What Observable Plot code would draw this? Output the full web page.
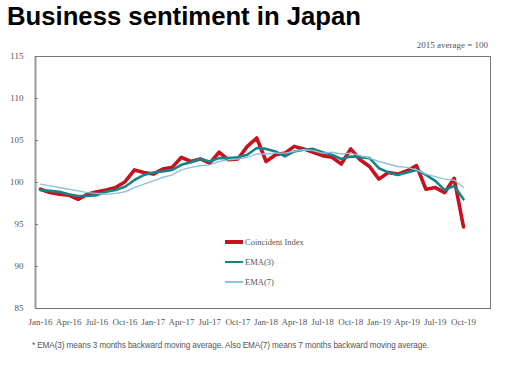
<!DOCTYPE html>
<html><head><meta charset="utf-8">
<script src="https://cdn.jsdelivr.net/npm/d3@7"></script>
<script src="https://cdn.jsdelivr.net/npm/@observablehq/plot@0.6"></script>
<style>
body{margin:0;background:#fff;}
#wrap{position:relative;width:509px;height:374px;overflow:hidden;background:#fff;}
#title{position:absolute;left:7px;top:4px;font:bold 25.7px/25px "Liberation Sans",Arial,sans-serif;color:#000;white-space:nowrap;}
#unit{position:absolute;right:21px;top:40px;font:9px/10px "Liberation Serif",serif;color:#555;white-space:nowrap;}
#chart{position:absolute;left:0;top:40px;}
#legend{position:absolute;left:225px;top:232px;font:8.5px/20px "Liberation Serif",serif;color:#555;}
#legend div{position:relative;height:20px;white-space:nowrap;}
#legend span.sw{position:absolute;left:0;width:18px;}
#legend span.tx{position:absolute;left:20px;top:0;}
#note{position:absolute;left:32px;top:341px;font:8.2px/10px "Liberation Sans",Arial,sans-serif;color:#555;white-space:nowrap;letter-spacing:-0.1px;}
</style></head><body>
<div id="wrap">
<div id="title">Business sentiment in Japan</div>
<div id="unit">2015 average = 100</div>
<div id="chart"></div>
<div id="legend"></div>
<div id="note">* EMA(3) means 3 months backward moving average. Also EMA(7) means 7 months backward moving average.</div>
</div>
<script>
// Monthly values, Jan-16 .. Oct-19 (46 months)
const coincident = [99.2, 98.8, 98.6, 98.5, 98.0, 98.6, 98.9, 99.1, 99.4, 100.1, 101.5, 101.2,
  101.0, 101.6, 101.8, 103.0, 102.5, 102.8, 102.3, 103.6, 102.7, 102.8, 104.3, 105.3,
  102.5, 103.3, 103.5, 104.3, 104.0, 103.6, 103.2, 103.0, 102.2, 104.0, 102.7, 101.9,
  100.4, 101.2, 101.0, 101.4, 102.0, 99.2, 99.4, 98.8, 100.5, 94.7];
const ema3 = [99.1, 99.0, 98.9, 98.6, 98.4, 98.4, 98.5, 98.9, 99.1, 99.5, 100.3, 100.9,
  101.2, 101.3, 101.5, 102.1, 102.4, 102.8, 102.5, 102.9, 102.9, 103.0, 103.3, 104.1,
  104.0, 103.7, 103.1, 103.7, 103.9, 104.0, 103.6, 103.3, 102.8, 103.1, 103.0, 102.9,
  101.7, 101.2, 100.9, 101.2, 101.5, 100.9, 100.2, 99.1, 99.6, 98.0];
const ema7 = [99.8, 99.6, 99.4, 99.2, 99.0, 98.8, 98.7, 98.6, 98.7, 98.9, 99.4, 99.8,
  100.2, 100.6, 100.9, 101.5, 101.8, 102.0, 102.1, 102.5, 102.7, 102.8, 103.0, 103.4,
  103.4, 103.5, 103.5, 103.7, 103.9, 103.8, 103.5, 103.6, 103.4, 103.5, 103.2, 102.9,
  102.5, 102.2, 101.9, 101.8, 101.5, 101.0, 100.7, 100.4, 100.3, 99.4];
const seriesNames = ["Coincident Index", "EMA(3)", "EMA(7)"];
const seriesColors = ["#c8101e", "#15838a", "#8cc2da"];
const seriesWidths = [3.6, 2.6, 1.4];
const tickLabels = ["Jan-16","Apr-16","Jul-16","Oct-16","Jan-17","Apr-17","Jul-17","Oct-17",
  "Jan-18","Apr-18","Jul-18","Oct-18","Jan-19","Apr-19","Jul-19","Oct-19"];
const yTicks = [85, 90, 95, 100, 105, 110, 115];

const tickMonths = tickLabels.map((_, k) => k * 3);
const xDomain = [-0.53, 47.87];
const toRows = arr => arr.map((v, i) => ({i, v}));

const chart = Plot.plot({
  width: 509, height: 295,
  marginTop: 16, marginBottom: 27, marginLeft: 35, marginRight: 19,
  style: {fontFamily: "'Liberation Serif', serif", fontSize: "9px", color: "#555", background: "transparent"},
  x: {domain: xDomain},
  y: {domain: [85, 115]},
  marks: [
    Plot.frame({stroke: "#777", strokeWidth: 1}),
    Plot.ruleX([xDomain[0]], {stroke: "#999", strokeWidth: 2}),
    Plot.ruleY(yTicks, {x1: xDomain[0], x2: xDomain[0] + 0.3, stroke: "#777"}),
    Plot.axisY({ticks: yTicks, tickSize: 0, tickPadding: 12, label: null}),
    Plot.axisX({ticks: tickMonths, tickFormat: (d) => tickLabels[d / 3], tickSize: 0, tickPadding: 10, label: null}),
    Plot.line(toRows(coincident), {x: "i", y: "v", stroke: seriesColors[0], strokeWidth: seriesWidths[0], strokeLinejoin: "round"}),
    Plot.line(toRows(ema3), {x: "i", y: "v", stroke: seriesColors[1], strokeWidth: seriesWidths[1], strokeLinejoin: "round"}),
    Plot.line(toRows(ema7), {x: "i", y: "v", stroke: seriesColors[2], strokeWidth: seriesWidths[2], strokeLinejoin: "round"})
  ]
});
document.getElementById("chart").appendChild(chart);

const legend = document.getElementById("legend");
seriesNames.forEach((name, k) => {
  const row = document.createElement("div");
  const sw = document.createElement("span");
  sw.className = "sw";
  sw.style.background = seriesColors[k];
  sw.style.height = seriesWidths[k] + "px";
  sw.style.top = (10 - seriesWidths[k] / 2) + "px";
  const tx = document.createElement("span");
  tx.className = "tx";
  tx.textContent = name;
  row.appendChild(sw); row.appendChild(tx);
  legend.appendChild(row);
});
</script>
</body></html>
